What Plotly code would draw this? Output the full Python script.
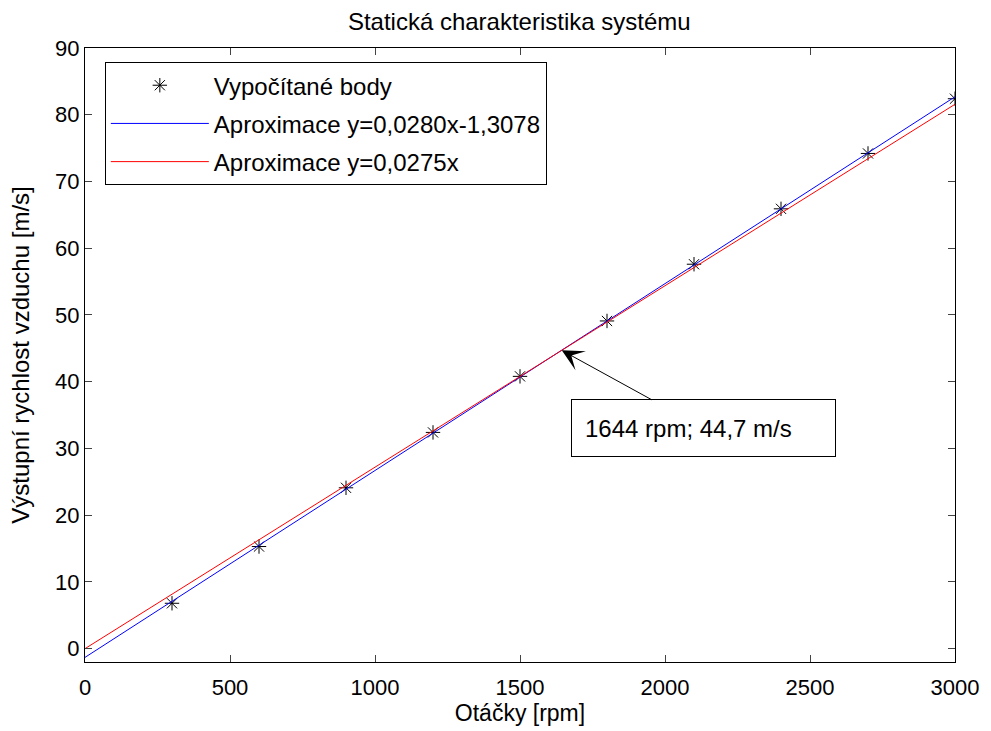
import plotly.graph_objects as go

# Measured operating points
otacky = [300, 600, 900, 1200, 1500, 1800, 2100, 2400, 2700, 3000]
rychlost = [6.8, 15.3, 24.1, 32.4, 40.8, 49.1, 57.6, 65.9, 74.2, 82.4]

# Fitted lines
x_fit = [0, 3000]
k_lin, q_lin = 0.0280, -1.3078
prusecik = (1644, 44.7)  # intersection of both approximations
k_prime = prusecik[1] / prusecik[0]

y_lin = [k_lin * x + q_lin for x in x_fit]
y_prime = [k_prime * x for x in x_fit]

x_ticks = [0, 500, 1000, 1500, 2000, 2500, 3000]
y_ticks = [0, 10, 20, 30, 40, 50, 60, 70, 80, 90]

FONT = "Liberation Sans, Arial, sans-serif"
FS = 22

fig = go.Figure()
fig.add_trace(go.Scatter(
    x=otacky, y=rychlost, mode="markers", name="Vypočítané body",
    marker=dict(symbol="asterisk-open", size=12, color="black",
                line=dict(color="black", width=1)),
    legendgroup="a",
))
fig.add_trace(go.Scatter(
    x=x_fit, y=y_lin, mode="lines", name="Aproximace y=0,0280x-1,3078",
    line=dict(color="#0000ff", width=1), legendgroup="b",
))
fig.add_trace(go.Scatter(
    x=x_fit, y=y_prime, mode="lines", name="Aproximace y=0,0275x",
    line=dict(color="#ff0000", width=1), legendgroup="c",
))

fig.add_annotation(
    x=prusecik[0], y=prusecik[1], xref="x", yref="y",
    text="1644 rpm; 44,7 m/s", showarrow=True,
    ax=142, ay=78, arrowhead=3, arrowsize=3.6, arrowwidth=1,
    arrowcolor="black", bgcolor="white", bordercolor="black",
    borderwidth=1, width=237, height=30, borderpad=13, align="left",
    font=dict(family=FONT, size=24, color="black"),
)

axis_common = dict(
    showgrid=False, zeroline=False, showline=True, linecolor="black",
    linewidth=1, mirror="ticks", ticks="inside", ticklen=7,
    tickcolor="#444444", tickfont=dict(family=FONT, size=FS, color="black"),
)

fig.update_layout(
    width=991, height=731,
    margin=dict(l=85, r=28, t=48, b=67),
    paper_bgcolor="white", plot_bgcolor="white",
    title=dict(text="Statická charakteristika systému",
               xref="container", x=0.524, xanchor="center",
               yref="container", y=0.971, yanchor="middle",
               font=dict(family=FONT, size=24, color="black")),
    xaxis=dict(range=[0, 3000], tickvals=x_ticks, ticklabelstandoff=6,
               title=dict(text="Otáčky [rpm]", standoff=2,
                          font=dict(family=FONT, size=23, color="black")),
               **axis_common),
    yaxis=dict(range=[-2, 90], tickvals=y_ticks,
               title=dict(text="Výstupní rychlost vzduchu [m/s]", standoff=18,
                          font=dict(family=FONT, size=24, color="black")),
               **axis_common),
    legend=dict(x=0.0228, y=0.977, xanchor="left", yanchor="top",
                bgcolor="white", bordercolor="black", borderwidth=1,
                font=dict(family=FONT, size=24, color="black"),
                itemwidth=98,
                traceorder="grouped", tracegroupgap=4),
    showlegend=True,
)

fig.write_html("out.html")
